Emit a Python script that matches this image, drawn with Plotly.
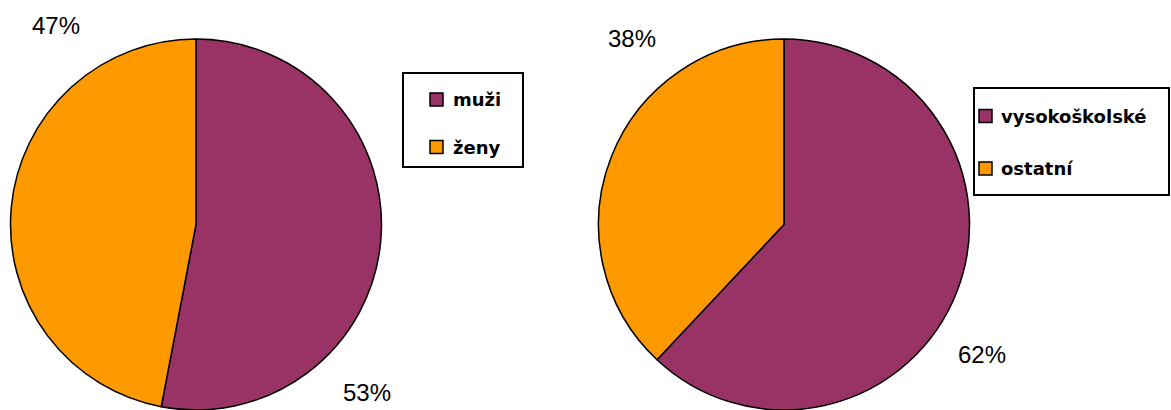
import plotly.graph_objects as go

W, H = 1171, 410

# data
left_labels = ["muži", "ženy"]
left_values = [53, 47]
right_labels = ["vysokoškolské", "ostatní"]
right_values = [62, 38]
colors = ["#993366", "#FF9900"]

def px(x):
    return x / W

def py(y):
    return 1 - y / H

fig = go.Figure()

pie_common = dict(
    sort=False, direction="clockwise", rotation=0,
    textinfo="none", hoverinfo="label+percent",
    marker=dict(colors=colors, line=dict(color="black", width=1.5)),
    showlegend=False,
)

fig.add_trace(go.Pie(labels=left_labels, values=left_values,
                     domain=dict(x=[px(10), px(382)], y=[0, py(39)]), **pie_common))
fig.add_trace(go.Pie(labels=right_labels, values=right_values,
                     domain=dict(x=[px(598), px(970)], y=[0, py(39)]), **pie_common))

def pct(vals):
    t = sum(vals)
    return [f"{round(v * 100 / t)}%" for v in vals]

annotations = []
shapes = []

# percentage labels (Excel-style placement)
label_pos = {
    "left": [(367, 392), (56, 25)],
    "right": [(982, 354), (632, 39)],
}
for key, vals in (("left", left_values), ("right", right_values)):
    for txt, (x, y) in zip(pct(vals), label_pos[key]):
        annotations.append(dict(
            x=px(x), y=py(y), xref="paper", yref="paper", text=txt,
            showarrow=False, xanchor="center", yanchor="middle",
            font=dict(family="Liberation Sans, Arial, sans-serif", size=24, color="black"),
        ))

# manual legends
legends = [
    dict(box=(403, 73, 523, 167), labels=left_labels, centers=[99.5, 147], mx=436.5, tx=451),
    dict(box=(974, 88, 1169, 195), labels=right_labels, centers=[116, 168.5], mx=985.5, tx=999),
]
for lg in legends:
    x0, y0, x1, y1 = lg["box"]
    shapes.append(dict(type="rect", xref="paper", yref="paper",
                       x0=px(x0), x1=px(x1), y0=py(y1), y1=py(y0),
                       line=dict(color="black", width=2), fillcolor="white", layer="above"))
    for lab, col, cy in zip(lg["labels"], colors, lg["centers"]):
        m = 6.5
        shapes.append(dict(type="rect", xref="paper", yref="paper",
                           x0=px(lg["mx"] - m), x1=px(lg["mx"] + m),
                           y0=py(cy + m), y1=py(cy - m),
                           line=dict(color="black", width=1.5), fillcolor=col, layer="above"))
        annotations.append(dict(
            x=px(lg["tx"]), y=py(cy), xref="paper", yref="paper", text=f"<b>{lab}</b>",
            showarrow=False, xanchor="left", yanchor="middle",
            font=dict(family="DejaVu Sans, sans-serif", size=18, color="black"),
        ))

fig.update_layout(
    width=W, height=H,
    margin=dict(l=0, r=0, t=0, b=0),
    paper_bgcolor="white", plot_bgcolor="white",
    annotations=annotations, shapes=shapes,
    showlegend=False,
)

fig.write_html("out.html", config={"displayModeBar": False},
               post_script="document.body.style.margin='0';document.body.style.overflow='hidden';")
